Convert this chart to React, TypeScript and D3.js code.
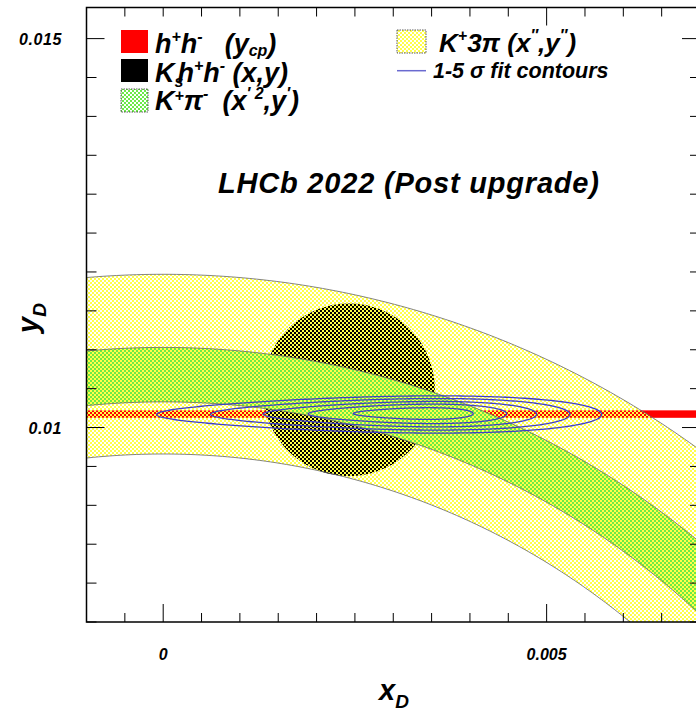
import React from 'react';
import * as d3 from 'd3';

// axis ranges and labels
const xDomain = [-0.001, 0.007];
const yDomain = [0.0075, 0.0154];
const xTickLabels = [0, 0.005];
const yTickLabels = [0.01, 0.015];
const minorStep = 0.0005;
const majorStep = 0.005;

// h+h- : y_CP band (lower, upper)
const ycpBand = [0.010125, 0.010221];
// K+3pi : ring around the origin (inner radius, outer radius)
const k3piRing = [0.00966, 0.01197];
// K+pi- : ring around the origin (inner radius, outer radius)
const kpiRing = [0.01033, 0.01103];
// Ks h+h- : (x, y) region, centre and radii
const kshhCentre = [0.002422, 0.010485];
const kshhRadius = [0.00112, 0.00111];
// combined fit contours, 1 to 5 sigma (innermost last)
const contourCx = [0.002816, 0.002961, 0.003087, 0.003185, 0.00326];
const contourCy = [0.010168, 0.01017, 0.010172, 0.010176, 0.01018];
const contourHalfW = [0.002902, 0.002343, 0.001783, 0.001294, 0.000782];
const contourHalfH = [0.00023, 0.000195, 0.000157, 0.00012, 0.000072];
const contourSkew = 0.3;

const W = 696;
const H = 714;
const L = 86.5;
const R = 700;
const T = 7.5;
const B = 622;
const FONT = "'Liberation Sans', Arial, Helvetica, sans-serif";

const x = d3.scaleLinear().domain(xDomain).range([L, R]);
const y = d3.scaleLinear().domain(yDomain).range([B, T]);

const line = d3
  .line<[number, number]>()
  .x((d) => x(d[0]))
  .y((d) => y(d[1]));

const angles = d3.range(0, 361).map((i) => (Math.PI * (15 + (150 * i) / 360)) / 180);

function arcPts(r: number): [number, number][] {
  return angles.map((a) => [r * Math.cos(a), r * Math.sin(a)] as [number, number]);
}

function ringPath(r0: number, r1: number) {
  const pts = arcPts(r1).concat(arcPts(r0).reverse());
  return line(pts) + 'Z';
}

function ellipsePath(c: number[], r: number[]) {
  const pts = d3
    .range(0, 201)
    .map((i) => (2 * Math.PI * i) / 200)
    .map((t) => [c[0] + r[0] * Math.cos(t), c[1] + r[1] * Math.sin(t)] as [number, number]);
  return line(pts) + 'Z';
}

function contourPath(i: number) {
  const pts = d3
    .range(0, 301)
    .map((k) => (2 * Math.PI * k) / 300)
    .map(
      (t) =>
        [
          contourCx[i] + contourHalfW[i] * Math.cos(t),
          contourCy[i] + contourHalfH[i] * Math.sin(t) * (1 + contourSkew * Math.cos(t)),
        ] as [number, number]
    );
  return line(pts) + 'Z';
}

const isMajor = (v: number) => Math.abs(v / majorStep - Math.round(v / majorStep)) < 1e-6;

const xTicks = d3.range(Math.round(xDomain[0] / minorStep), Math.round(xDomain[1] / minorStep) + 1).map((k) => k * minorStep);
const yTicks = d3.range(Math.ceil(yDomain[0] / minorStep), Math.floor(yDomain[1] / minorStep) + 1).map((k) => k * minorStep);

const fmt = (v: number) => (v === 0 ? '0' : d3.format('.3~f')(v));

export default function App() {
  const supStyle = { fontSize: 16 };
  const subStyle = { fontSize: 16 };
  return (
    <svg
      width={W}
      height={H}
      viewBox={`0 0 ${W} ${H}`}
      style={{ position: 'absolute', left: 0, top: 0, background: '#fff' }}
      fontFamily={FONT}
      fontWeight="bold"
      fontStyle="italic"
    >
      <defs>
        <clipPath id="plotArea">
          <rect x={L} y={T} width={R - L} height={B - T} />
        </clipPath>
        <pattern id="yellowCheck" width={4} height={4} patternUnits="userSpaceOnUse">
          <rect x={0} y={0} width={2} height={2} fill="#ffff4a" />
          <rect x={2} y={2} width={2} height={2} fill="#ffff4a" />
        </pattern>
        <pattern id="greenCheck" width={4} height={4} patternUnits="userSpaceOnUse">
          <rect x={2} y={0} width={2} height={2} fill="#6cea48" />
          <rect x={0} y={2} width={2} height={2} fill="#6cea48" />
        </pattern>
      </defs>

      <rect width={W} height={H} fill="#fff" />

      <g clipPath="url(#plotArea)">
        {/* y_CP band */}
        <rect
          x={L}
          y={y(ycpBand[1])}
          width={R - L}
          height={y(ycpBand[0]) - y(ycpBand[1])}
          fill="#ff0000"
        />
        {/* Ks h+h- region */}
        <path d={ellipsePath(kshhCentre, kshhRadius)} fill="#000" />
        {/* K+pi- ring */}
        <path d={ringPath(kpiRing[0], kpiRing[1])} fill="url(#greenCheck)" />
        {/* K+3pi ring */}
        <path d={ringPath(k3piRing[0], k3piRing[1])} fill="url(#yellowCheck)" />
        {[kpiRing[0], kpiRing[1], k3piRing[0], k3piRing[1]].map((r, i) => (
          <path key={i} d={line(arcPts(r)) || ''} fill="none" stroke="#666" strokeWidth={0.8} />
        ))}
        {/* fit contours */}
        {contourCx.map((_, i) => (
          <path key={i} d={contourPath(i)} fill="none" stroke="#3f3fc4" strokeWidth={1.3} />
        ))}
      </g>

      {/* frame and ticks */}
      <g stroke="#000" fill="none">
        <rect x={L} y={T} width={R - L} height={B - T} strokeWidth={1.5} />
        {xTicks.map((v, i) => {
          const len = isMajor(v) ? 18 : 9;
          const topLen = isMajor(v) && v !== 0 ? 18 : 9;
          return (
            <g key={i} strokeWidth={1}>
              <line x1={x(v)} x2={x(v)} y1={B} y2={B - len} />
              <line x1={x(v)} x2={x(v)} y1={T} y2={T + topLen} />
            </g>
          );
        })}
        {yTicks.map((v, i) => {
          const len = isMajor(v) ? 18 : 10;
          return (
            <g key={i} strokeWidth={1}>
              <line x1={L} x2={L + len} y1={y(v)} y2={y(v)} />
              <line x1={R} x2={R - len} y1={y(v)} y2={y(v)} />
            </g>
          );
        })}
      </g>

      {/* tick labels */}
      <g fontSize={16} fill="#000">
        {xTickLabels.map((v) => (
          <text key={v} x={x(v)} y={660} textAnchor="middle">
            {fmt(v)}
          </text>
        ))}
        {yTickLabels.map((v) => (
          <text key={v} x={62} y={y(v) + 6} textAnchor="end" letterSpacing={0.6}>
            {fmt(v)}
          </text>
        ))}
      </g>

      {/* axis titles */}
      <text x={379} y={700} fontSize={29}>
        x<tspan fontSize={19} dy={8}>D</tspan>
      </text>
      <text transform="translate(38,333) rotate(-90)" fontSize={29}>
        y<tspan fontSize={19} dy={8}>D</tspan>
      </text>

      {/* title */}
      <text x={218} y={193} fontSize={29} letterSpacing={0.8}>
        LHCb 2022 (Post upgrade)
      </text>

      {/* legend, left column */}
      <g fontSize={27} fill="#000">
        <rect x={121} y={30} width={27} height={23} fill="#ff0000" />
        <text x={155} y={52.5}>
          h<tspan style={supStyle} dy={-11}>+</tspan>
          <tspan dy={11}>h</tspan>
          <tspan style={supStyle} dy={-11}>-</tspan>
          <tspan dy={11} dx={22}>(y</tspan>
          <tspan style={subStyle} dy={3}>cp</tspan>
          <tspan dy={-3}>)</tspan>
        </text>

        <rect x={121} y={59} width={27} height={23} fill="#000" />
        <text x={155} y={81.5}>
          K<tspan style={subStyle} dy={5}>s</tspan>
          <tspan dy={-5} dx={-6}>h</tspan>
          <tspan style={supStyle} dy={-11}>+</tspan>
          <tspan dy={11}>h</tspan>
          <tspan style={supStyle} dy={-11}>-</tspan>
          <tspan dy={11}> (x,y)</tspan>
        </text>

        <rect x={121} y={89} width={27} height={23} fill="url(#greenCheck)" stroke="#333" strokeWidth={0.8} strokeDasharray="1.5 1" />
        <text x={155} y={110}>
          K<tspan style={supStyle} dy={-9}>+</tspan>
          <tspan dy={9}>π</tspan>
          <tspan style={supStyle} dy={-11}>-</tspan>
          <tspan dy={11} dx={14}>(x</tspan>
          <tspan style={supStyle} dy={-11}>′ 2</tspan>
          <tspan dy={11}>,y</tspan>
          <tspan style={supStyle} dy={-11}>′</tspan>
          <tspan dy={11}>)</tspan>
        </text>
      </g>

      {/* legend, right column */}
      <g fill="#000">
        <rect x={397} y={30} width={29} height={23} fill="url(#yellowCheck)" stroke="#333" strokeWidth={0.8} strokeDasharray="1.5 1" />
        <text x={439} y={52} fontSize={26}>
          K<tspan style={supStyle} dy={-11}>+</tspan>
          <tspan dy={11}>3π (x</tspan>
          <tspan style={supStyle} dy={-11}>″</tspan>
          <tspan dy={11}>,y</tspan>
          <tspan style={supStyle} dy={-11}>″</tspan>
          <tspan dy={11}>)</tspan>
        </text>
        <line x1={397} x2={426} y1={70.7} y2={70.7} stroke="#6a6ad0" strokeWidth={1.5} />
        <text x={433} y={78} fontSize={21.5}>
          1-5 σ fit contours
        </text>
      </g>
    </svg>
  );
}
